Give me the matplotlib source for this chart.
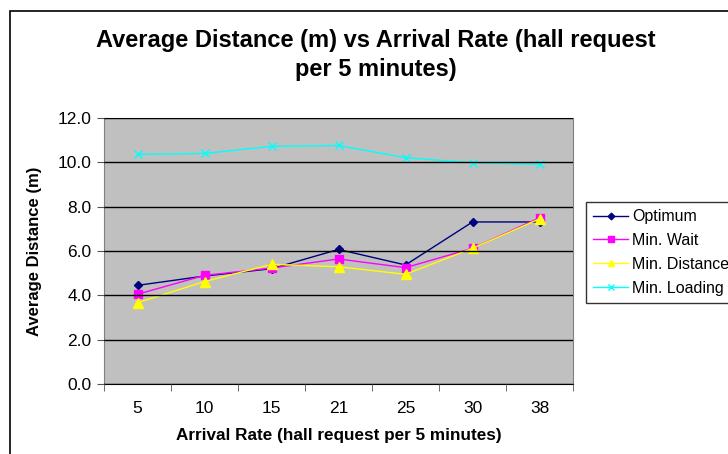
import numpy as np
import matplotlib
matplotlib.use('Agg')
import matplotlib.pyplot as plt
from matplotlib.patches import Rectangle

plt.rcParams['font.family'] = ['Liberation Sans', 'DejaVu Sans']

# dati
rates = ['5', '10', '15', '21', '25', '30', '38']
optimum = [4.45, 4.87, 5.20, 6.07, 5.37, 7.31, 7.31]
min_wait = [4.05, 4.90, 5.23, 5.64, 5.25, 6.12, 7.50]
min_dist = [3.67, 4.62, 5.40, 5.29, 4.95, 6.12, 7.45]
min_load = [10.36, 10.40, 10.72, 10.76, 10.21, 9.98, 9.91]

fig = plt.figure(figsize=(7.28, 4.54), dpi=100)
W, H = 728, 454

# cornice del grafico
fig.patches.append(Rectangle((10/W, -0.1), 1.0, (H - 11)/H + 0.1, transform=fig.transFigure,
                             fill=False, ec='black', lw=1.2))

ax = fig.add_axes([104/W, 1 - 384/H, (573 - 104)/W, (384 - 118)/H])
ax.set_facecolor('#C0C0C0')
x = np.arange(len(rates))

ax.plot(x, optimum, color='#000080', marker='D', ms=4.5, lw=1, label='Optimum')
ax.plot(x, min_wait, color='#FF00FF', marker='s', ms=5.5, lw=1, label='Min. Wait')
ax.plot(x, min_dist, color='#FFFF00', marker='^', ms=6.5, lw=1, label='Min. Distance')
ax.plot(x, min_load, color='#00FFFF', marker='x', ms=6, mew=1, lw=1, label='Min. Loading')

ax.set_xlim(-0.5, len(rates) - 0.5)
ax.set_ylim(0, 12)
ax.set_yticks(np.arange(0, 12.1, 2))
ax.set_yticklabels(['%.1f' % v for v in np.arange(0, 12.1, 2)])
ax.set_xticks(x)
ax.set_xticklabels(rates)
ax.set_xticks(np.arange(-0.5, len(rates), 1), minor=True)
ax.tick_params(axis='x', which='major', length=0, pad=12, labelsize=12.5)
ax.tick_params(axis='x', which='minor', length=5, color='#555555')
ax.tick_params(axis='y', length=5, color='#555555', labelsize=12.5, pad=4)
ax.yaxis.grid(True, color='black', lw=1)
ax.set_axisbelow(False)
for gl in ax.get_ygridlines():
    gl.set_zorder(1)
for s in ['top', 'right']:
    ax.spines[s].set_color('#808080')
ax.spines['left'].set_color('#808080')
ax.spines['bottom'].set_color('black')

ax.set_xlabel('Arrival Rate (hall request per 5 minutes)', fontsize=12.3, fontweight='bold', labelpad=9)
ax.set_ylabel('Average Distance (m)', fontsize=12, fontweight='bold', labelpad=11)

fig.text(376/W, 1 - 55/H, 'Average Distance (m) vs Arrival Rate (hall request\nper 5 minutes)',
         ha='center', va='center', fontsize=17, fontweight='bold', linespacing=1.3)

leg = ax.legend(loc='upper left', bbox_to_anchor=(586/W, 1 - 202/H), bbox_transform=fig.transFigure,
                frameon=True, fancybox=False, edgecolor='black', fontsize=11.5,
                handlelength=2.2, handletextpad=0.25, borderpad=0.45, labelspacing=0.55,
                borderaxespad=0, markerscale=0.75)
leg.get_frame().set_linewidth(1)

fig.savefig('out.png', dpi=100)
